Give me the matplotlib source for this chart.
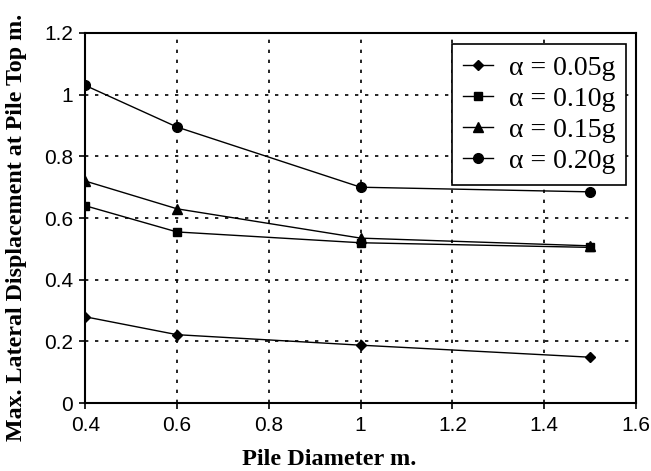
import numpy as np
import matplotlib.pyplot as plt
from matplotlib.legend_handler import HandlerLine2D

# Pile diameter (m)
diameter = [0.4, 0.6, 1.0, 1.5]

# Max lateral displacement at pile top (m)
disp_005 = [0.28, 0.222, 0.188, 0.149]
disp_010 = [0.64, 0.555, 0.52, 0.505]
disp_015 = [0.72, 0.63, 0.535, 0.51]
disp_020 = [1.03, 0.895, 0.70, 0.685]

labels = ["\u03b1 = 0.05g", "\u03b1 = 0.10g", "\u03b1 = 0.15g", "\u03b1 = 0.20g"]
markers = ["D", "s", "^", "o"]
msizes = [5.5, 6, 7, 7]


class RightMarker(HandlerLine2D):
    # marker sits near the right end of the legend line
    def get_xdata(self, legend, xdescent, ydescent, width, height, fontsize):
        xdata = np.array([-xdescent, -xdescent + width])
        xdata_marker = np.array([-xdescent + width * 0.78])
        return xdata, xdata_marker


fig = plt.figure(figsize=(6.51, 4.71), dpi=100)
ax = fig.add_axes([0.131, 0.144, 0.846, 0.786])

for d, lab, m, ms in zip([disp_005, disp_010, disp_015, disp_020], labels, markers, msizes):
    ax.plot(diameter, d, color="black", lw=1.0, marker=m, ms=ms, label=lab)

ax.set_xlim(0.4, 1.6)
ax.set_ylim(0, 1.2)
ax.set_xticks(np.arange(0.4, 1.61, 0.2))
ax.set_yticks(np.arange(0, 1.21, 0.2))
ax.set_xticklabels(["0.4", "0.6", "0.8", "1", "1.2", "1.4", "1.6"])
ax.set_yticklabels(["0", "0.2", "0.4", "0.6", "0.8", "1", "1.2"])
ax.tick_params(labelsize=15, direction="out", length=4, width=1.2, pad=5)
for t in ax.get_xticklabels() + ax.get_yticklabels():
    t.set_family("Liberation Sans")

ax.grid(True, color="black", linestyle=(0, (2, 4)), linewidth=1.2)
for s in ax.spines.values():
    s.set_linewidth(1.5)
    s.set_color("black")

ax.set_xlabel("Pile Diameter m.", family="Liberation Serif", fontweight="bold", fontsize=17.5)
ax.xaxis.set_label_coords(0.443, -0.123)
ax.set_ylabel("Max. Lateral Displacement at Pile Top m.", family="Liberation Serif",
              fontweight="bold", fontsize=17.3)
ax.yaxis.set_label_coords(-0.105, 0.476)

leg = ax.legend(loc="upper right", bbox_to_anchor=(0.982, 0.970),
                prop={"family": "Liberation Serif", "size": 20},
                frameon=True, fancybox=False, edgecolor="black", framealpha=1,
                handlelength=1.06, borderpad=0.4, labelspacing=0.2, handletextpad=0.57,
                numpoints=1, borderaxespad=0.0,
                handler_map={plt.Line2D: RightMarker()})
leg.get_frame().set_linewidth(1.2)

fig.savefig("out.png", dpi=100)
